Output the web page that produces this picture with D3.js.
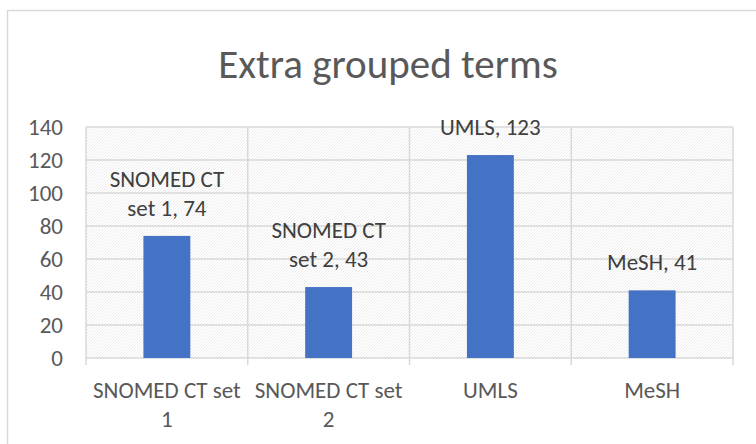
<!DOCTYPE html>
<html>
<head>
<meta charset="utf-8">
<script src="https://cdn.jsdelivr.net/npm/d3@7"></script>
<style>
  body { margin: 0; background: #fff; }
  text { font-family: Carlito, Calibri, Lato, sans-serif; }
</style>
</head>
<body>
<script>
// constants
const w = 756;
const h = 444;
const margin = {top: 127, right: 23, bottom: 86, left: 86};

// data
const categories = ["SNOMED CT set 1", "SNOMED CT set 2", "UMLS", "MeSH"];
const values = [74, 43, 123, 41];
// wrapped text as it appears in the picture
const categoryLines = [["SNOMED CT set", "1"], ["SNOMED CT set", "2"], ["UMLS"], ["MeSH"]];
const valueLabelLines = [["SNOMED CT", "set 1, 74"], ["SNOMED CT", "set 2, 43"], ["UMLS, 123"], ["MeSH, 41"]];
const yTicks = [0, 20, 40, 60, 80, 100, 120, 140];
const title = "Extra grouped terms";

const svg = d3.select("body")
  .append("svg")
  .attr("width", w)
  .attr("height", h);

// hatched plot background
const pat = svg.append("defs").append("pattern")
  .attr("id", "hatch")
  .attr("width", 3)
  .attr("height", 3)
  .attr("patternUnits", "userSpaceOnUse");
pat.append("rect").attr("width", 3).attr("height", 3).attr("fill", "#ffffff");
pat.append("path").attr("d", "M0,3 L3,0").attr("stroke", "#ececec").attr("stroke-width", 1);

// chart border
svg.append("rect")
  .attr("x", 7.5).attr("y", 10.5)
  .attr("width", 770).attr("height", 460)
  .attr("fill", "none")
  .attr("stroke", "#d9d9d9")
  .attr("stroke-width", 1.5);

// title
svg.append("text")
  .attr("x", 388)
  .attr("y", 78)
  .attr("text-anchor", "middle")
  .attr("font-size", 41)
  .attr("fill", "#595959")
  .text(title);

const x0 = margin.left, x1 = w - margin.right;
const y0 = h - margin.bottom, y1 = margin.top;

const xScale = d3.scaleBand()
  .domain(categories)
  .range([x0, x1])
  .paddingInner(0.71)
  .paddingOuter(0.355);

const catScale = d3.scaleBand()
  .domain(categories)
  .range([x0, x1]);

const yScale = d3.scaleLinear()
  .domain([0, 140])
  .range([y0, y1]);

svg.append("rect")
  .attr("x", x0).attr("y", y1)
  .attr("width", x1 - x0).attr("height", y0 - y1)
  .attr("fill", "url(#hatch)");

// horizontal gridlines
svg.append("g")
  .selectAll("line")
  .data(yTicks)
  .enter()
  .append("line")
  .attr("x1", x0).attr("x2", x1)
  .attr("y1", d => yScale(d)).attr("y2", d => yScale(d))
  .attr("stroke", "#d9d9d9")
  .attr("stroke-width", 1.5);

// vertical lines between categories (extend below axis as ticks)
const bounds = categories.map(c => catScale(c)).concat([x1]);
svg.append("g")
  .selectAll("line")
  .data(bounds)
  .enter()
  .append("line")
  .attr("x1", d => d).attr("x2", d => d)
  .attr("y1", y1).attr("y2", y0 + 7)
  .attr("stroke", "#d9d9d9")
  .attr("stroke-width", 1.5);

// bars
svg.selectAll(".bar")
  .data(values)
  .enter()
  .append("rect")
  .attr("class", "bar")
  .attr("x", (d, i) => xScale(categories[i]))
  .attr("y", d => yScale(d))
  .attr("width", xScale.bandwidth())
  .attr("height", d => y0 - yScale(d))
  .attr("fill", "#4472c4");

// y axis labels
const yAxis = d3.axisLeft(yScale)
  .tickValues(yTicks)
  .tickSize(0)
  .tickPadding(23);
const gy = svg.append("g")
  .attr("transform", "translate(" + x0 + ",0)")
  .call(yAxis);
gy.select(".domain").remove();
gy.selectAll("text")
  .attr("font-size", 23)
  .attr("fill", "#595959")
  .attr("font-family", "Carlito, Calibri, Lato, sans-serif");

// x axis labels (multi-line)
const xAxis = d3.axisBottom(catScale).tickSize(0).tickFormat("");
const gx = svg.append("g")
  .attr("transform", "translate(0," + y0 + ")")
  .call(xAxis);
gx.select(".domain").remove();
gx.selectAll(".tick text").remove();
gx.selectAll(".tick")
  .append("text")
  .attr("text-anchor", "middle")
  .attr("font-size", 23)
  .attr("fill", "#595959")
  .attr("font-family", "Carlito, Calibri, Lato, sans-serif")
  .selectAll("tspan")
  .data((d, i) => categoryLines[i])
  .enter()
  .append("tspan")
  .attr("x", 0)
  .attr("y", (d, j) => 40 + j * 29)
  .text(d => d);

// data labels
svg.append("g")
  .selectAll("text")
  .data(values)
  .enter()
  .append("text")
  .attr("text-anchor", "middle")
  .attr("font-size", 23)
  .attr("fill", "#404040")
  .attr("transform", (d, i) => "translate(" + (xScale(categories[i]) + xScale.bandwidth() / 2) + "," + yScale(d) + ")")
  .selectAll("tspan")
  .data((d, i) => valueLabelLines[i].map((t, j, arr) => ({t: t, k: arr.length - 1 - j})))
  .enter()
  .append("tspan")
  .attr("x", 0)
  .attr("y", d => -20 - d.k * 29)
  .text(d => d.t);
</script>
</body>
</html>
